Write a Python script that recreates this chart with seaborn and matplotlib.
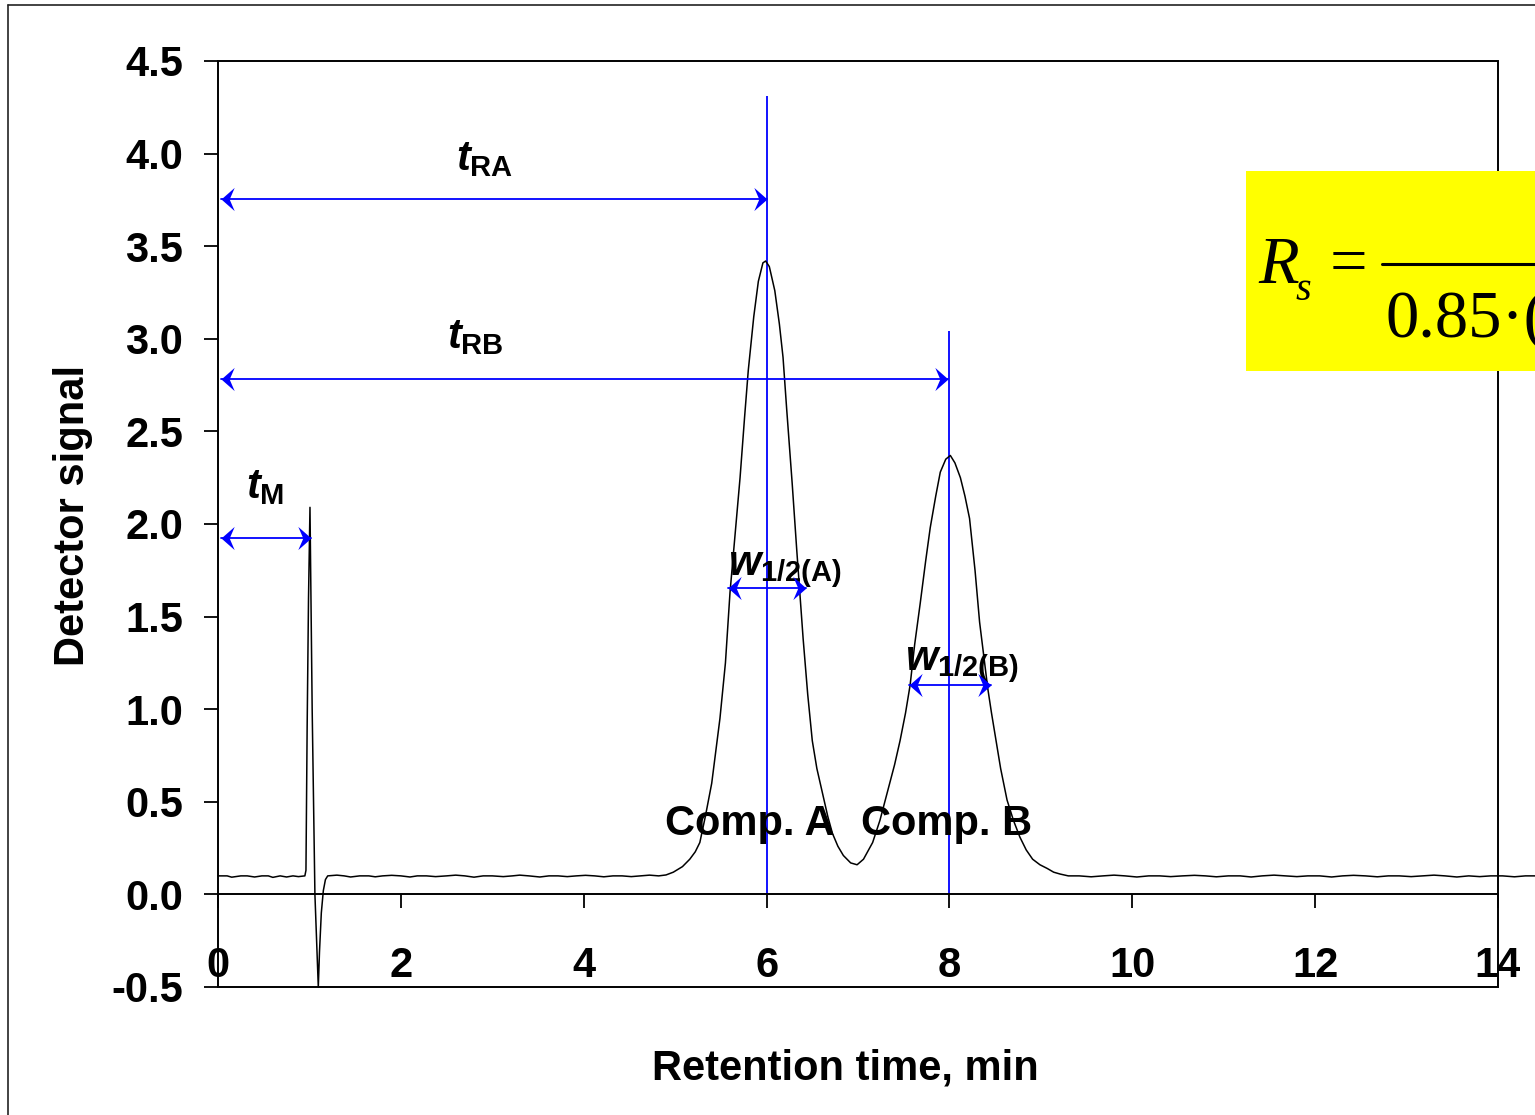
import matplotlib
matplotlib.use("Agg")
import matplotlib.pyplot as plt
import seaborn as sns
import pandas as pd
from matplotlib.patches import Rectangle
from matplotlib.lines import Line2D
from matplotlib.path import Path

# --- chromatogram (time in min, detector signal) ---
base_start_time = [0.00, 0.10, 0.15, 0.25, 0.32, 0.40, 0.48, 0.55, 0.60, 0.68,
                   0.75, 0.82, 0.88, 0.95]
base_start_signal = [0.10, 0.10, 0.093, 0.10, 0.10, 0.094, 0.10, 0.10, 0.092, 0.10,
                     0.094, 0.10, 0.096, 0.10]

dead_time = [0.962, 0.975, 0.99, 1.006, 1.03, 1.06, 1.078, 1.097, 1.11, 1.13,
             1.152, 1.175, 1.20]
dead_signal = [0.13, 0.90, 1.60, 2.09, 1.00, 0.00, -0.25, -0.50, -0.31, -0.10,
               0.02, 0.08, 0.10]

base_mid_time = [1.30, 1.38, 1.45, 1.55, 1.65, 1.72, 1.80, 1.90, 2.00, 2.10,
                 2.18, 2.28, 2.38, 2.50, 2.60, 2.70, 2.80, 2.90, 3.00, 3.12,
                 3.22, 3.30, 3.40, 3.52, 3.62, 3.72, 3.82, 3.92, 4.02, 4.12,
                 4.22, 4.32, 4.42, 4.52, 4.62, 4.72, 4.82, 4.90]
base_mid_signal = [0.104, 0.10, 0.094, 0.10, 0.10, 0.095, 0.10, 0.103, 0.10, 0.094,
                   0.10, 0.10, 0.096, 0.10, 0.104, 0.10, 0.093, 0.10, 0.10, 0.096,
                   0.10, 0.104, 0.10, 0.094, 0.10, 0.10, 0.096, 0.10, 0.103, 0.10,
                   0.095, 0.10, 0.10, 0.096, 0.10, 0.104, 0.10, 0.105]

peaks_time = [4.98, 5.08, 5.16, 5.22, 5.27, 5.33, 5.40, 5.49, 5.55, 5.60,
              5.66, 5.71, 5.76, 5.80, 5.86, 5.91, 5.96, 5.99, 6.03, 6.09,
              6.14, 6.18, 6.22, 6.28, 6.33, 6.40, 6.45, 6.50, 6.55, 6.61,
              6.67, 6.72, 6.78, 6.84, 6.92, 6.99, 7.06, 7.16, 7.24, 7.32,
              7.40, 7.46, 7.52, 7.57, 7.62, 7.68, 7.74, 7.79, 7.85, 7.90,
              7.96, 8.01, 8.06, 8.12, 8.17, 8.22, 8.28, 8.33, 8.38, 8.42,
              8.46, 8.50, 8.56, 8.63, 8.70, 8.77, 8.84, 8.91, 8.99, 9.07,
              9.14, 9.21]
peaks_signal = [0.12, 0.15, 0.19, 0.23, 0.28, 0.42, 0.60, 0.95, 1.25, 1.63,
                1.97, 2.25, 2.58, 2.83, 3.12, 3.31, 3.41, 3.42, 3.39, 3.26,
                3.08, 2.90, 2.62, 2.22, 1.86, 1.38, 1.08, 0.83, 0.68, 0.55,
                0.42, 0.33, 0.26, 0.21, 0.17, 0.16, 0.19, 0.28, 0.40, 0.55,
                0.70, 0.83, 0.98, 1.13, 1.35, 1.57, 1.80, 1.98, 2.15, 2.28,
                2.35, 2.37, 2.33, 2.25, 2.15, 2.03, 1.75, 1.47, 1.27, 1.11,
                0.98, 0.86, 0.68, 0.51, 0.40, 0.31, 0.24, 0.19, 0.16, 0.14,
                0.12, 0.11]

base_end_time = [9.30, 9.42, 9.55, 9.68, 9.80, 9.92, 10.05, 10.18, 10.30, 10.42,
                 10.55, 10.68, 10.80, 10.92, 11.05, 11.18, 11.30, 11.42, 11.55, 11.68,
                 11.80, 11.92, 12.05, 12.18, 12.30, 12.42, 12.55, 12.68, 12.80, 12.92,
                 13.05, 13.18, 13.30, 13.42, 13.55, 13.68, 13.80, 13.92, 14.05, 14.18,
                 14.30, 14.45]
base_end_signal = [0.10, 0.10, 0.095, 0.10, 0.104, 0.10, 0.094, 0.10, 0.10, 0.096,
                   0.10, 0.103, 0.10, 0.095, 0.10, 0.10, 0.094, 0.10, 0.104, 0.10,
                   0.096, 0.10, 0.10, 0.094, 0.10, 0.103, 0.10, 0.095, 0.10, 0.10,
                   0.096, 0.10, 0.104, 0.10, 0.094, 0.10, 0.096, 0.10, 0.10, 0.095,
                   0.10, 0.10]

# annotation values
t_ra, t_rb, t_m = 6.0, 8.0, 1.02
x_ticks = [0, 2, 4, 6, 8, 10, 12, 14]
y_ticks = [-0.5, 0.0, 0.5, 1.0, 1.5, 2.0, 2.5, 3.0, 3.5, 4.0, 4.5]

chrom = pd.DataFrame({
    "time": base_start_time + dead_time + base_mid_time + peaks_time + base_end_time,
    "signal": base_start_signal + dead_signal + base_mid_signal + peaks_signal + base_end_signal,
})

sns.set_style("white")
plt.rcParams["font.family"] = ["Liberation Sans", "DejaVu Sans"]
plt.rcParams["axes.unicode_minus"] = False
for key in ["text.color", "axes.labelcolor", "xtick.color", "ytick.color"]:
    plt.rcParams[key] = "black"
plt.rcParams["mathtext.fontset"] = "custom"
plt.rcParams["mathtext.it"] = "Liberation Sans:italic:bold"
plt.rcParams["mathtext.rm"] = "Liberation Sans:bold"
plt.rcParams["mathtext.bf"] = "Liberation Sans:bold"

fig = plt.figure(figsize=(15.35, 11.15), dpi=100)
ax = fig.add_axes([218 / 1535, 1 - 987 / 1115, 1280 / 1535, 926 / 1115])

sns.lineplot(data=chrom, x="time", y="signal", color="black", lw=1.1,
             ax=ax, clip_on=False, zorder=3)

ax.set_xlim(0, 14)
ax.set_ylim(-0.5, 4.5)

# x axis sits on the zero line, plot area keeps a full frame
for side in ["top", "right", "left"]:
    ax.spines[side].set_visible(False)
ax.spines["bottom"].set_position(("data", 0))
ax.spines["bottom"].set_linewidth(1.4)
ax.spines["bottom"].set_color("black")
ax.add_patch(Rectangle((0, 0), 1, 1, transform=ax.transAxes, fill=False,
                       lw=1.4, edgecolor="black", clip_on=False, zorder=4))

ax.set_xticks(x_ticks)
ax.set_xticklabels([str(v) for v in x_ticks])
ax.set_yticks(y_ticks)
ax.set_yticklabels([f"{v:.1f}" for v in y_ticks])
ax.tick_params(axis="x", direction="out", length=10, width=1.3, pad=27,
               labelsize=30, bottom=True)
ax.tick_params(axis="y", direction="out", length=10, width=1.3, pad=15,
               labelsize=30, left=True)
for lab in ax.get_xticklabels() + ax.get_yticklabels():
    lab.set_fontweight("bold")

ax.set_xlabel("Retention time, min", fontsize=30, fontweight="bold")
ax.set_ylabel("Detector signal", fontsize=30, fontweight="bold")
ax.xaxis.set_label_coords(0.49, -0.066)
ax.yaxis.set_label_coords(-0.098, 0.509)

# retention time markers
blue = "#0000FF"
ax.vlines(t_ra, 0, 4.31, color=blue, lw=1.3, zorder=2)
ax.vlines(t_rb, 0, 3.04, color=blue, lw=1.3, zorder=2)

# stealth-like arrow heads, tip at the path origin
head_right = Path([(0, 0), (-1, 0.88), (-0.62, 0), (-1, -0.88), (0, 0)],
                  [Path.MOVETO, Path.LINETO, Path.LINETO, Path.LINETO, Path.CLOSEPOLY])
head_left = Path([(0, 0), (1, 0.88), (0.62, 0), (1, -0.88), (0, 0)],
                 [Path.MOVETO, Path.LINETO, Path.LINETO, Path.LINETO, Path.CLOSEPOLY])


def double_arrow(x0, x1, y):
    ax.plot([x0, x1], [y, y], color=blue, lw=1.3, zorder=5)
    ax.plot([x1], [y], marker=head_right, ms=19, color=blue, mew=0, zorder=5)
    ax.plot([x0], [y], marker=head_left, ms=19, color=blue, mew=0, zorder=5)


double_arrow(0.03, t_ra, 3.755)
double_arrow(0.03, 7.98, 2.784)
double_arrow(0.03, t_m, 1.925)
double_arrow(5.58, 6.43, 1.654)
double_arrow(7.56, 8.45, 1.133)

ax.text(2.92, 3.91, r"$t_{\mathrm{RA}}$", fontsize=30, ha="center", va="baseline")
ax.text(2.81, 2.95, r"$t_{\mathrm{RB}}$", fontsize=30, ha="center", va="baseline")
ax.text(0.51, 2.14, r"$t_{\mathrm{M}}$", fontsize=30, ha="center", va="baseline")
ax.text(6.20, 1.725, r"$w_{\mathrm{1/2(A)}}$", fontsize=30, ha="center", va="baseline")
ax.text(8.14, 1.21, r"$w_{\mathrm{1/2(B)}}$", fontsize=30, ha="center", va="baseline")

ax.text(5.82, 0.32, "Comp. A", fontsize=30, fontweight="bold", ha="center", va="baseline")
ax.text(7.97, 0.32, "Comp. B", fontsize=30, fontweight="bold", ha="center", va="baseline")

# resolution formula box, cut by the right edge of the picture
fig.add_artist(Rectangle((1246 / 1535, 1 - 371 / 1115), 0.25, 200 / 1115,
                         transform=fig.transFigure, facecolor="#FFFF00",
                         edgecolor="none", zorder=5))
serif = ["Liberation Serif", "DejaVu Serif"]
fig.text(1258 / 1535, 1 - 283 / 1115, "R", family=serif, style="italic",
         fontsize=48, va="baseline", zorder=6)
fig.text(1296 / 1535, 1 - 300 / 1115, "s", family=serif, style="italic",
         fontsize=29, va="baseline", zorder=6)
fig.text(1330 / 1535, 1 - 283 / 1115, "=", family=serif,
         fontsize=48, va="baseline", zorder=6)
fig.add_artist(Line2D([1382 / 1535, 1.05], [1 - 264 / 1115] * 2,
                      color="black", lw=2.2, zorder=6))
fig.text(1385 / 1535, 1 - 337 / 1115, "0.85\u00b7(", family=serif,
         fontsize=48, va="baseline", zorder=6)

# outer frame of the slide
fig.add_artist(Line2D([8 / 1535, 8 / 1535], [-0.05, 1 - 5 / 1115],
                      color="#222222", lw=1.2))
fig.add_artist(Line2D([8 / 1535, 1.05], [1 - 5 / 1115] * 2,
                      color="#222222", lw=1.2))

fig.savefig("out.png", dpi=100)
plt.close(fig)
